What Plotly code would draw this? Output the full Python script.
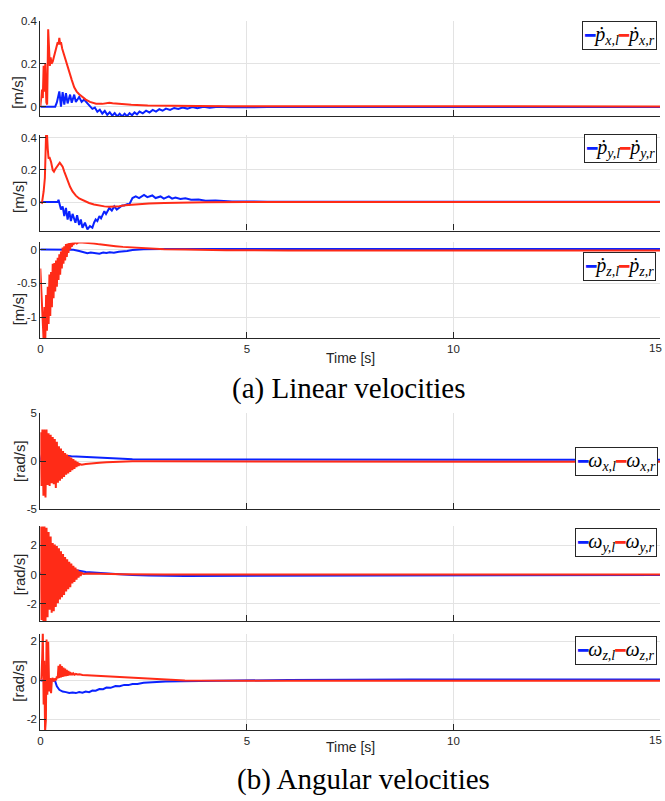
import plotly.graph_objects as go

# ---------------- data ----------------
# (a) linear velocities
t_pxl = [0, 0.36, 0.40, 0.46, 0.50, 0.54, 0.58, 0.62, 0.66, 0.72, 0.76, 0.82, 0.86, 0.94, 1.00, 1.06, 1.14, 1.20,
         1.26, 1.32, 1.38, 1.44, 1.50, 1.56, 1.62, 1.68, 1.74, 1.80, 1.86, 1.92, 1.98, 2.04, 2.10, 2.16, 2.22, 2.28,
         2.34, 2.40, 2.48, 2.56, 2.64, 2.72, 2.80, 2.88, 2.96, 3.04, 3.14, 3.24, 3.34, 3.44, 3.56, 3.68, 3.80, 3.95,
         4.10, 4.30, 4.60, 5.5, 7, 9, 11, 13, 15]
v_pxl = [0, 0, 0.02, 0.071, 0.0, 0.068, 0.01, 0.063, 0.015, 0.056, 0.018, 0.056, 0.022, 0.045, 0.022, 0.033, 0.015, 0.004,
         -0.010, -0.004, -0.024, -0.014, -0.032, -0.020, -0.038, -0.026, -0.042, -0.030, -0.045, -0.033, -0.045, -0.033,
         -0.044, -0.030, -0.040, -0.027, -0.036, -0.023, -0.031, -0.019, -0.027, -0.015, -0.023, -0.012, -0.019, -0.009,
         -0.015, -0.006, -0.011, -0.004, -0.009, -0.002, -0.007, -0.001, -0.005, 0.0, -0.003, -0.002, -0.002, -0.002,
         -0.002, -0.002, -0.002]
t_pxr = [0, 0.02, 0.04, 0.06, 0.08, 0.10, 0.12, 0.145, 0.165, 0.19, 0.21, 0.23, 0.25, 0.27, 0.30, 0.33, 0.36, 0.39,
         0.42, 0.44, 0.46, 0.48, 0.50, 0.53, 0.56, 0.60, 0.65, 0.70, 0.76, 0.82, 0.88, 0.94, 1.02, 1.10, 1.2, 1.35,
         1.5, 1.6, 1.67, 1.75, 1.9, 2.2, 2.6, 3.0, 3.8, 4.6, 6, 8, 10, 12, 15]
v_pxr = [0, 0.03, 0.08, 0.04, 0.19, 0.07, 0.2, 0.02, 0.01, 0.36, 0.25, 0.19, 0.23, 0.2, 0.21, 0.23, 0.25, 0.28,
         0.30, 0.29, 0.32, 0.29, 0.30, 0.27, 0.25, 0.22, 0.19, 0.16, 0.125, 0.09, 0.07, 0.058, 0.045, 0.033, 0.022,
         0.014, 0.013, 0.015, 0.018, 0.016, 0.013, 0.009, 0.006, 0.004, 0.003, 0.002, 0.002, 0.001, 0.001, 0.001, 0.001]

t_pyl = [0, 0.42, 0.44, 0.50, 0.54, 0.58, 0.62, 0.66, 0.70, 0.74, 0.78, 0.85, 0.89, 0.94, 0.98, 1.02, 1.08, 1.14,
         1.20, 1.26, 1.30, 1.34, 1.38, 1.43, 1.47, 1.55, 1.59, 1.67, 1.73, 1.79, 1.85, 1.91, 1.98, 2.03, 2.11, 2.15,
         2.23, 2.31, 2.39, 2.51, 2.59, 2.71, 2.79, 2.91, 2.99, 3.11, 3.19, 3.27, 3.39, 3.51, 3.65, 3.83, 4.0, 4.24,
         4.64, 5.5, 8, 15]
v_pyl = [0, 0, 0.014, -0.047, -0.027, -0.088, -0.037, -0.109, -0.057, -0.119, -0.074, -0.129, -0.082, -0.143, -0.109,
         -0.16, -0.129, -0.17, -0.15, -0.16, -0.129, -0.109, -0.119, -0.088, -0.102, -0.057, -0.074, -0.037, -0.053,
         -0.027, -0.047, -0.033, -0.021, -0.021, -0.012, -0.016, 0.025, 0.035, 0.025, 0.045, 0.031, 0.041, 0.025,
         0.035, 0.021, 0.035, 0.021, 0.028, 0.019, 0.024, 0.014, 0.016, 0.008, 0.01, 0.004, 0.002, 0.002, 0.002]
t_pyr = [0, 0.04, 0.08, 0.11, 0.14, 0.16, 0.18, 0.20, 0.22, 0.26, 0.30, 0.33, 0.36, 0.40, 0.44, 0.47, 0.50, 0.54,
         0.58, 0.62, 0.66, 0.72, 0.78, 0.86, 0.94, 1.05, 1.18, 1.30, 1.43, 1.55, 1.67, 1.80, 1.91, 2.05, 2.23, 2.45,
         2.63, 3.0, 3.43, 4.0, 5, 7, 10, 15]
v_pyr = [0, -0.005, 0.066, 0.15, 0.43, 0.43, 0.33, 0.27, 0.28, 0.25, 0.2, 0.19, 0.205, 0.22, 0.24, 0.245, 0.235,
         0.22, 0.19, 0.16, 0.13, 0.095, 0.066, 0.04, 0.022, 0.008, -0.006, -0.015, -0.022, -0.027, -0.03, -0.029,
         -0.026, -0.02, -0.016, -0.012, -0.009, -0.006, -0.003, -0.001, 0, 0, 0, 0]

t_pzl = [0, 0.8, 0.94, 1.05, 1.14, 1.22, 1.30, 1.43, 1.52, 1.60, 1.68, 1.78, 1.90, 2.0, 2.1, 2.23, 2.5, 3, 5, 15]
v_pzl = [0, -0.003, -0.02, -0.04, -0.054, -0.045, -0.05, -0.06, -0.045, -0.052, -0.04, -0.046, -0.032, -0.03,
         -0.02, -0.005, 0.005, 0.008, 0.01, 0.01]
t_pzr = [0, 0.02, 0.04, 0.06, 0.08, 0.10, 0.12, 0.14, 0.16, 0.18, 0.20, 0.22, 0.24, 0.26, 0.28, 0.30, 0.32, 0.34,
         0.36, 0.38, 0.40, 0.42, 0.44, 0.46, 0.48, 0.50, 0.52, 0.54, 0.56, 0.58, 0.60, 0.62, 0.64, 0.66, 0.68, 0.70,
         0.72, 0.74, 0.76, 0.78, 0.80, 0.83, 0.88, 0.94, 1.02, 1.10, 1.18, 1.30, 1.43, 1.6, 1.82, 2.0, 2.23, 2.45,
         2.63, 3.0, 3.5, 4.5, 6, 9, 12, 15]
v_pzr = [-0.28, -0.5, -0.75, -1.05, -1.35, -0.85, -1.35, -0.67, -1.2, -0.55, -1.1, -0.37, -0.98, -0.33, -0.85,
         -0.21, -0.72, -0.2, -0.62, -0.16, -0.55, -0.12, -0.45, -0.07, -0.37, -0.03, -0.28, 0.03, -0.21, 0.05, -0.16,
         0.08, -0.11, 0.09, -0.05, 0.095, 0.0, 0.1, 0.04, 0.105, 0.07, 0.11, 0.09, 0.11, 0.105, 0.11, 0.105, 0.09,
         0.077, 0.062, 0.05, 0.04, 0.03, 0.02, 0.015, 0.005, 0.0, -0.01, -0.012, -0.013, -0.014, -0.015]

# (b) angular velocities
t_wxl = [0, 0.05, 0.15, 0.3, 0.45, 0.6, 0.75, 0.9, 1.02, 1.2, 1.43, 1.6, 1.82, 2.0, 2.23, 2.63, 3.5, 4.64, 7, 10, 15]
v_wxl = [0, 0.9, 0.8, 0.7, 0.62, 0.56, 0.5, 0.46, 0.44, 0.39, 0.34, 0.3, 0.27, 0.23, 0.2, 0.18, 0.17, 0.16, 0.15,
         0.14, 0.13]
t_wxr = [0, 0.025, 0.05, 0.075, 0.1, 0.125, 0.15, 0.175, 0.2, 0.225, 0.25, 0.275, 0.3, 0.325, 0.35, 0.375, 0.4,
         0.425, 0.45, 0.475, 0.5, 0.525, 0.55, 0.575, 0.6, 0.625, 0.65, 0.675, 0.7, 0.725, 0.75, 0.775, 0.8, 0.825,
         0.85, 0.875, 0.9, 0.925, 0.95, 1.0, 1.1, 1.25, 1.43, 1.6, 1.82, 2.0, 2.23, 2.6, 3.5, 5, 8, 11, 15]
v_wxr = [3.0, -2.6, 3.3, -3.6, 3.3, -3.8, 3.3, -2.5, 2.9, -2.6, 2.75, -2.3, 2.5, -2.4, 2.3, -2.8, 2.0, -2.25,
         1.55, -2.05, 1.3, -1.85, 1.05, -1.65, 0.85, -1.42, 0.68, -1.3, 0.5, -1.12, 0.36, -0.95, 0.2, -0.8, 0.05,
         -0.63, -0.1, -0.5, -0.3, -0.38, -0.3, -0.22, -0.17, -0.12, -0.07, -0.04, -0.02, -0.03, -0.04, -0.05, -0.06,
         -0.07, -0.07]

t_wyl = [0, 0.1, 0.3, 0.5, 0.7, 0.94, 1.1, 1.26, 1.5, 1.82, 2.23, 2.63, 3.5, 4.64, 7, 10, 15]
v_wyl = [0, 0.5, 0.45, 0.4, 0.35, 0.27, 0.18, 0.14, 0.08, 0.05, -0.02, -0.06, -0.09, -0.08, -0.06, -0.04, -0.03]
t_wyr = [0, 0.025, 0.05, 0.075, 0.1, 0.125, 0.15, 0.175, 0.2, 0.225, 0.25, 0.275, 0.3, 0.325, 0.35, 0.375, 0.4,
         0.425, 0.45, 0.475, 0.5, 0.525, 0.55, 0.575, 0.6, 0.625, 0.65, 0.675, 0.7, 0.725, 0.75, 0.775, 0.8, 0.825,
         0.85, 0.875, 0.9, 0.925, 0.95, 0.975, 1.0, 1.05, 1.15, 1.3, 1.5, 2.0, 3.0, 5, 8, 15]
v_wyr = [3.3, -3.1, 3.4, -3.3, 3.4, -3.3, 3.2, -2.9, 2.9, -2.4, 2.6, -2.6, 2.15, -2.5, 2.05, -2.2, 1.95, -1.95,
         1.8, -1.7, 1.6, -1.55, 1.4, -1.38, 1.2, -1.15, 1.05, -1.0, 0.88, -0.85, 0.75, -0.6, 0.6, -0.5, 0.48, -0.35,
         0.35, -0.2, 0.22, -0.08, 0.12, 0.05, 0.07, 0.06, 0.04, 0.02, 0.0, -0.01, 0.0, 0.0]

t_wzl = [0, 0.3, 0.36, 0.40, 0.46, 0.54, 0.62, 0.70, 0.78, 0.86, 0.94, 1.02, 1.1, 1.18, 1.26, 1.34, 1.43, 1.52,
         1.6, 1.7, 1.82, 1.92, 2.03, 2.13, 2.23, 2.35, 2.5, 2.63, 2.8, 3.03, 3.4, 3.83, 4.6, 6, 9, 15]
v_wzl = [0, 0.0, -0.05, -0.3, -0.48, -0.57, -0.6, -0.64, -0.62, -0.65, -0.6, -0.63, -0.57, -0.6, -0.52, -0.53,
         -0.44, -0.45, -0.37, -0.38, -0.29, -0.3, -0.23, -0.24, -0.18, -0.18, -0.12, -0.1, -0.08, -0.06, -0.04,
         -0.03, -0.01, 0.02, 0.04, 0.05]
t_wzr = [0, 0.02, 0.045, 0.06, 0.08, 0.095, 0.115, 0.135, 0.15, 0.17, 0.19, 0.215, 0.24, 0.26, 0.28, 0.30, 0.33,
         0.36, 0.38, 0.40, 0.42, 0.44, 0.46, 0.48, 0.50, 0.52, 0.54, 0.56, 0.58, 0.60, 0.62, 0.64, 0.66, 0.68, 0.70,
         0.72, 0.74, 0.76, 0.78, 0.80, 0.83, 0.86, 0.90, 0.95, 1.02, 1.2, 1.43, 1.8, 2.23, 2.45, 2.63, 2.85, 3.03,
         3.5, 5, 8, 15]
v_wzr = [0.03, 0.12, 1.13, 2.5, -1.24, 1.0, -2.6, -2.0, 2.1, -0.73, 1.98, -0.56, 0.12, -0.65, 0.05, 0.12, -0.05,
         0.1, 0.0, 0.2, 0.1, 0.75, 0.12, 0.82, 0.15, 0.74, 0.18, 0.66, 0.2, 0.6, 0.22, 0.54, 0.24, 0.48, 0.26, 0.43,
         0.27, 0.39, 0.28, 0.36, 0.29, 0.33, 0.3, 0.31, 0.28, 0.26, 0.22, 0.19, 0.15, 0.12, 0.08, 0.05, 0.03, 0.0,
         -0.02, -0.02, -0.02]

# axis ranges and ticks
x_ticks = [0, 5, 10, 15]
x_ticklabels = ["0", "5", "10", "15"]
y_ranges = [[-0.045, 0.4], [-0.178, 0.418], [-1.31, 0.106], [-5, 5], [-3.16, 3.29], [-2.54, 2.39]]
y_ticks = [[0, 0.2, 0.4], [0, 0.2, 0.4], [-1, -0.5, 0], [-5, 0, 5], [-2, 0, 2], [-2, 0, 2]]
y_ticklabels = [["0", "0.2", "0.4"], ["0", "0.2", "0.4"], ["-1", "-0.5", "0"],
                ["-5", "0", "5"], ["-2", "0", "2"], ["-2", "0", "2"]]
y_units = ["[m/s]", "[m/s]", "[m/s]", "[rad/s]", "[rad/s]", "[rad/s]"]
x_title = "Time [s]"
captions = ["(a) Linear velocities", "(b) Angular velocities"]
legend_base = ["ṗ", "ṗ", "ṗ", "ω", "ω", "ω"]
legend_axis = ["x", "y", "z", "x", "y", "z"]
legend_side = ["l", "r"]

series = [
    [(t_pxl, v_pxl), (t_pxr, v_pxr)],
    [(t_pyl, v_pyl), (t_pyr, v_pyr)],
    [(t_pzl, v_pzl), (t_pzr, v_pzr)],
    [(t_wxl, v_wxl), (t_wxr, v_wxr)],
    [(t_wyl, v_wyl), (t_wyr, v_wyr)],
    [(t_wzl, v_wzl), (t_wzr, v_wzr)],
]

# ---------------- layout / style ----------------
W, H = 665, 801
BLUE = "#0A22FF"
RED = "#FF2B17"
AXC = "#262626"
GRID = "#E3E3E3"
SANS = "Liberation Sans, Arial, sans-serif"
SERIF = "Liberation Serif, DejaVu Serif, serif"
LEG_SIZE = 20
SUB_SIZE = 14
DASH_SIZE = 17

x_px = (37.5, 660)
panel_px = [(15, 112), (131, 228), (240, 337.3), (413.3, 510.7), (528.3, 624.3), (637.3, 735)]
ylab_px = [(15, 87), (15, 193), (15, 307), (16, 462), (16, 577), (16, 685)]
leg_px = [(657, 15), (657, 130), (656, 250), (658, 448), (657, 530), (657, 640)]
time_px = [(349, 357), (349, 752)]
cap_px = [(348, 388), (362, 785)]
edge_label_px = 664   # right edge of the last x tick label (it is cut by the page edge)


def px(x):
    return x / W


def py(y):
    return 1 - y / H


fig = go.Figure()
layout = dict(width=W, height=H, margin=dict(l=0, r=0, t=0, b=0), autosize=False,
              paper_bgcolor="white", plot_bgcolor="white", showlegend=False)
annotations = []

for i, (pan, ser) in enumerate(zip(panel_px, series)):
    n = "" if i == 0 else str(i + 1)
    bottom = i in (2, 5)
    for (t, v), col in zip(ser, [BLUE, RED]):
        fig.add_trace(go.Scatter(x=t, y=v, mode="lines", line=dict(color=col, width=2.0),
                                 xaxis="x" + n, yaxis="y" + n, hoverinfo="skip", showlegend=False))
    layout["xaxis" + n] = dict(
        domain=[px(x_px[0]), px(x_px[1])], anchor="y" + n, range=[0, 15],
        tickmode="array", tickvals=x_ticks, ticktext=x_ticklabels,
        showticklabels=bottom,
        ticks="inside", ticklen=6, tickwidth=1, tickcolor=AXC,
        showline=True, linecolor=AXC, linewidth=1.3, mirror=False,
        showgrid=True, gridcolor=GRID, gridwidth=1, zeroline=False,
        tickfont=dict(family=SANS, size=11.5, color=AXC), fixedrange=True)
    layout["yaxis" + n] = dict(
        domain=[py(pan[1]), py(pan[0])], anchor="x" + n, range=y_ranges[i],
        tickmode="array", tickvals=y_ticks[i], ticktext=y_ticklabels[i],
        ticks="inside", ticklen=6, tickwidth=1, tickcolor=AXC,
        showline=True, linecolor=AXC, linewidth=1.3, mirror=False,
        showgrid=True, gridcolor=GRID, gridwidth=1, zeroline=False,
        tickfont=dict(family=SANS, size=11.5, color=AXC), fixedrange=True)
    if bottom:
        # last tick label sits on the page edge; plotly hides it, so draw it flush right
        annotations.append(dict(text=x_ticklabels[-1], xref="paper", yref="paper", x=px(edge_label_px),
                                y=py(pan[1] + 2), xanchor="right", yanchor="top", showarrow=False,
                                font=dict(family=SANS, size=11.5, color=AXC)))
    # y unit label
    annotations.append(dict(text=y_units[i], xref="paper", yref="paper", x=px(ylab_px[i][0]),
                            y=py(ylab_px[i][1]), xanchor="center", yanchor="middle", textangle=-90,
                            showarrow=False, font=dict(family=SANS, size=15, color=AXC)))
    # legend box (subscripts as explicitly sized, baseline-shifted spans)
    b, a = legend_base[i], legend_axis[i]
    parts = []
    for side, col in zip(legend_side, [BLUE, RED]):
        parts.append(
            f'<span style="color:{col};font-size:{DASH_SIZE}px">━</span>'
            f'<span style="font-size:{LEG_SIZE}px">{b}</span>'
            f'<span style="font-size:{SUB_SIZE}px;baseline-shift:-4px">{a},{side}</span>')
    annotations.append(dict(text="".join(parts), xref="paper", yref="paper", x=px(leg_px[i][0]),
                            y=py(leg_px[i][1]), xanchor="right", yanchor="top", showarrow=False,
                            bordercolor=AXC, borderwidth=1, borderpad=1, bgcolor="white",
                            font=dict(family=SERIF, size=LEG_SIZE, color="black", style="italic")))

for (xx, yy) in time_px:
    annotations.append(dict(text=x_title, xref="paper", yref="paper", x=px(xx), y=py(yy),
                            xanchor="center", yanchor="middle", showarrow=False,
                            font=dict(family=SANS, size=14, color=AXC)))
for cap, (xx, yy) in zip(captions, cap_px):
    annotations.append(dict(text=cap, xref="paper", yref="paper", x=px(xx), y=py(yy),
                            xanchor="center", yanchor="middle", showarrow=False,
                            font=dict(family=SERIF, size=29, color="black")))

layout["annotations"] = annotations
fig.update_layout(**layout)

fig.write_html("out.html", config={"displayModeBar": False},
               post_script="document.body.style.margin='0';document.body.style.overflow='hidden';")
